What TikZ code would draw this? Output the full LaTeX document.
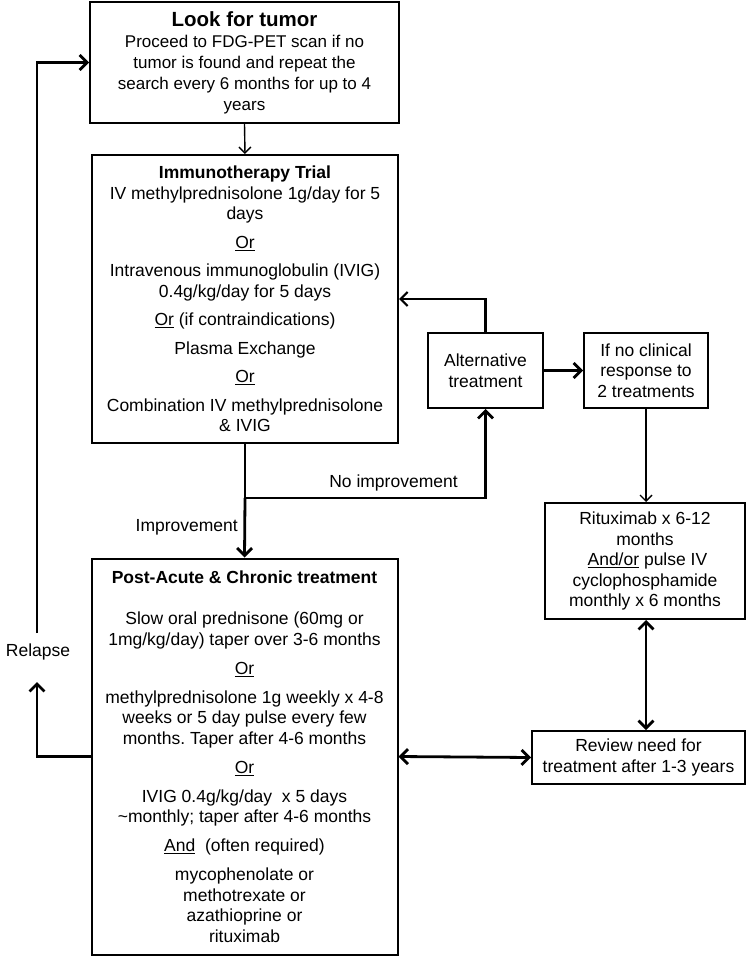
\documentclass[tikz,border=0pt]{standalone}
\usepackage{fontspec}
\setmainfont{Liberation Sans}
\usetikzlibrary{arrows.meta}
\frenchspacing
\begin{document}
\begin{tikzpicture}[x=1pt,y=-1pt,
  box/.style={draw, line width=2pt, inner sep=0pt, align=center, font=\fontsize{17.5}{20.5}\selectfont},
  lbl/.style={inner sep=0pt, font=\fontsize{17.5}{20.5}\selectfont},
  bigarr/.style={line width=2.8pt, -{Straight Barb[length=7.5pt,width=15pt]}},
  bigdbl/.style={line width=2.8pt, {Straight Barb[length=7.5pt,width=15pt]}-{Straight Barb[length=7.5pt,width=15pt]}},
  smallarr/.style={line width=1.4pt, -{Straight Barb[length=6pt,width=12pt]}},
  midarr/.style={line width=2.2pt, -{Straight Barb[length=7pt,width=14pt]}},
  bigline/.style={line width=2.8pt}]
\useasboundingbox (0,0) rectangle (750,958);

\node[box, minimum width=309pt, minimum height=121pt, font=\fontsize{17}{21}\selectfont] (tumor) at (244.5,62.5)
  {{\fontsize{20.5}{23}\selectfont\bfseries Look for tumor}\\
   Proceed to FDG-PET scan if no\\
   tumor is found and repeat the\\
   search every 6 months for up to 4\\
   years};

\node[box, minimum width=306pt, minimum height=288pt] (immuno) at (245,299)
  {\textbf{Immunotherapy Trial}\\
   IV methylprednisolone 1g/day for 5\\
   days\\[8pt]
   \underline{Or}\\[8pt]
   Intravenous immunoglobulin (IVIG)\\
   0.4g/kg/day for 5 days\\[8pt]
   \underline{Or} (if contraindications)\\[8pt]
   Plasma Exchange\\[8pt]
   \underline{Or}\\[8pt]
   Combination IV methylprednisolone\\
   \& IVIG};

\node[box, minimum width=115pt, minimum height=75pt] (alt) at (485.5,370.5)
  {Alternative\\ treatment};

\node[box, minimum width=124pt, minimum height=75pt] (ifno) at (646,370.5)
  {If no clinical\\ response to\\ 2 treatments};

\node[box, minimum width=200pt, minimum height=116pt] (ritux) at (645,561)
  {Rituximab x 6-12\\
   months\\
   \ \underline{And/or} pulse IV\\
   cyclophosphamide\\
   monthly x 6 months};

\node[box, minimum width=213pt, minimum height=53pt] (review) at (638.5,757.5)
  {Review need for\\ treatment after 1-3 years};

\node[box, minimum width=306pt, minimum height=396pt] (post) at (244.5,756.5)
  {\textbf{Post-Acute \& Chronic treatment}\\[21pt]
   Slow oral prednisone (60mg or\\
   1mg/kg/day) taper over 3-6 months\\[8.5pt]
   \underline{Or}\\[8.5pt]
   methylprednisolone 1g weekly x 4-8\\
   weeks or 5 day pulse every few\\
   months. Taper after 4-6 months\\[8.5pt]
   \underline{Or}\\[8.5pt]
   IVIG 0.4g/kg/day\ \ x 5 days\\
   {\char`\~}monthly; taper after 4-6 months\\[8.5pt]
   \underline{And}\ \ (often required)\\[8.5pt]
   mycophenolate or\\
   methotrexate or\\
   azathioprine or\\
   rituximab};

% labels
\node[lbl] (noimp) at (393.5,483) {No improvement};
\node[lbl, anchor=east] (imp) at (238,527) {Improvement};
\node[lbl] (relapse) at (38,652) {Relapse};

% connectors
\draw[smallarr] (tumor.south) -- (immuno.north);
\coordinate (split) at (245,498);
\draw[bigline] (immuno.south) -- (split);
\draw[bigarr] (split) -- (post.north);
\draw[bigarr] (split) -| (alt.south);
\draw[midarr] (alt.north) |- (immuno.east);
\draw[bigarr] (alt.east) -- (ifno.west);
\draw[smallarr] (ifno.south) -- (ifno.south |- ritux.north);
\draw[bigdbl] (ritux.south -| ifno.south) -- (ifno.south |- review.north);
\draw[bigdbl] (post.east) -- (review.west);
\coordinate (rlow) at (37,682);
\coordinate (rhigh) at (37,633);
\draw[bigarr] (post.west) -| (rlow);
\draw[bigarr] (rhigh) |- (tumor.west);
\end{tikzpicture}
\end{document}
